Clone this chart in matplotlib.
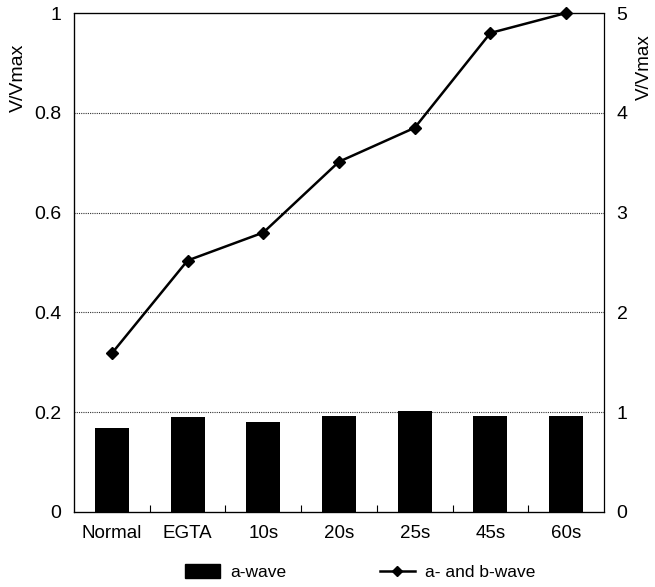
import numpy as np
import matplotlib.pyplot as plt
from matplotlib.lines import Line2D
from matplotlib.patches import Patch

# conditions along the x axis
conditions = ['Normal', 'EGTA', '10s', '20s', '25s', '45s', '60s']
# a-wave amplitude (left axis)
a_wave = [0.168, 0.190, 0.180, 0.192, 0.202, 0.192, 0.193]
# a- and b-wave amplitude (right axis)
ab_wave = [1.59, 2.52, 2.80, 3.51, 3.85, 4.80, 5.00]

plt.rcParams['font.family'] = ['Liberation Sans', 'DejaVu Sans']

fig = plt.figure(figsize=(6.55, 5.87), dpi=100)
ax = fig.add_axes([74 / 655, 75 / 587, 530 / 655, 499 / 587])

x = np.arange(len(conditions))
ax.bar(x, a_wave, width=0.45, color='black', zorder=3)
ax.set_xlim(-0.5, len(conditions) - 0.5)
ax.set_ylim(0, 1)
ax.set_yticks([0, 0.2, 0.4, 0.6, 0.8, 1.0])
ax.set_yticklabels(['0', '0.2', '0.4', '0.6', '0.8', '1'])
ax.set_xticks(x)
ax.set_xticklabels(conditions)
ax.set_xticks(x[:-1] + 0.5, minor=True)
ax.tick_params(axis='x', which='major', length=0, pad=9, labelsize=13.5)
ax.tick_params(axis='x', which='minor', direction='in', length=5, width=0.8)
ax.tick_params(axis='y', length=0, pad=9, labelsize=14)
for y in [0.2, 0.4, 0.6, 0.8]:
    ax.axhline(y, color='#333333', lw=0.8, ls=(0, (1, 1)), zorder=1)
ax.spines['left'].set_linestyle((0, (3, 1)))
ax.spines['right'].set_visible(False)
for s in ax.spines.values():
    s.set_linewidth(0.9)
ax.set_ylabel('V/Vmax', fontsize=14)
ax.yaxis.set_label_coords(-0.088, 0.87)

# a- and b-wave on the right axis
ax2 = ax.twinx()
ax2.plot(x, ab_wave, color='black', lw=1.8, marker='D', markersize=6.5, zorder=4, clip_on=False)
ax2.set_ylim(0, 5)
ax2.set_yticks([0, 1, 2, 3, 4, 5])
ax2.tick_params(axis='y', length=0, pad=9, labelsize=14)
ax2.spines['right'].set_linestyle((0, (4, 1)))
ax2.spines['right'].set_linewidth(0.9)
ax2.set_ylabel('V/Vmax', fontsize=13.5)
ax2.yaxis.set_label_coords(1.06, 0.892)

handles = [Patch(facecolor='black', edgecolor='black', label='a-wave'),
           Line2D([0], [0], color='black', lw=1.8, marker='D', markersize=5, label='a- and b-wave')]
fig.legend(handles=handles, loc='center', bbox_to_anchor=(0.55, 15 / 587), ncol=2,
           frameon=False, fontsize=12.5, columnspacing=5.4, handlelength=2.0,
           handleheight=0.9, handletextpad=0.6)

fig.savefig('out.png', dpi=100)
